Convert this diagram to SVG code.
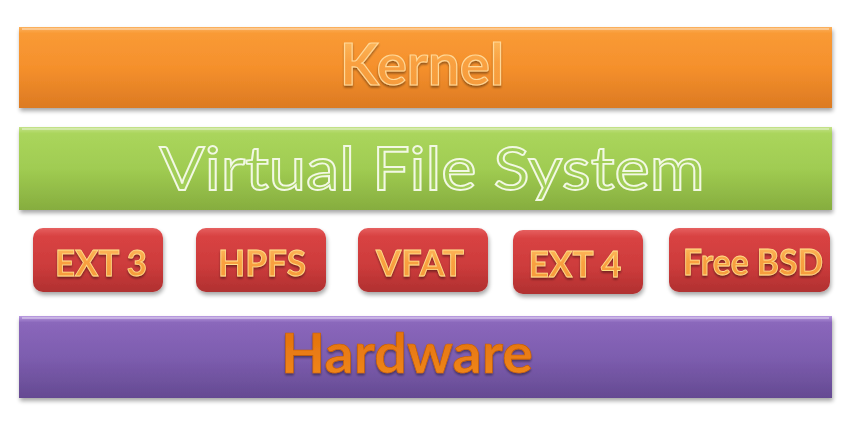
<svg xmlns="http://www.w3.org/2000/svg" width="865" height="437" viewBox="0 0 865 437">
<defs>
<linearGradient id="gOrange" x1="0" y1="0" x2="0" y2="1">
<stop offset="0" stop-color="#fbb15e"/><stop offset="0.08" stop-color="#f99a35"/><stop offset="0.5" stop-color="#f5902c"/><stop offset="1" stop-color="#dc7a22"/>
</linearGradient>
<linearGradient id="gGreen" x1="0" y1="0" x2="0" y2="1">
<stop offset="0" stop-color="#c4e28a"/><stop offset="0.08" stop-color="#aad55c"/><stop offset="0.5" stop-color="#a0cc52"/><stop offset="1" stop-color="#86ad3e"/>
</linearGradient>
<linearGradient id="gRed" x1="0" y1="0" x2="0" y2="1">
<stop offset="0" stop-color="#e66060"/><stop offset="0.12" stop-color="#d94343"/><stop offset="0.6" stop-color="#cc3b3b"/><stop offset="1" stop-color="#b03030"/>
</linearGradient>
<linearGradient id="gPurple" x1="0" y1="0" x2="0" y2="1">
<stop offset="0" stop-color="#b99ae0"/><stop offset="0.08" stop-color="#8a67bb"/><stop offset="0.5" stop-color="#7d5daf"/><stop offset="1" stop-color="#654a92"/>
</linearGradient>
<linearGradient id="gTextO" x1="0" y1="0" x2="0" y2="1">
<stop offset="0" stop-color="#ffc46a"/><stop offset="0.5" stop-color="#f9a040"/><stop offset="1" stop-color="#f59a3a"/>
</linearGradient>
<linearGradient id="gTextHW" x1="0" y1="0" x2="0" y2="1">
<stop offset="0" stop-color="#e06c08"/><stop offset="1" stop-color="#f28a1e"/>
</linearGradient>
<filter id="shadow" x="-5%" y="-10%" width="110%" height="130%">
<feGaussianBlur in="SourceAlpha" stdDeviation="2"/>
<feOffset dx="1" dy="3" result="b"/>
<feComponentTransfer><feFuncA type="linear" slope="0.35"/></feComponentTransfer>
<feMerge><feMergeNode/><feMergeNode in="SourceGraphic"/></feMerge>
</filter>
<filter id="tshadow" x="-5%" y="-10%" width="110%" height="130%">
<feGaussianBlur in="SourceAlpha" stdDeviation="1"/>
<feOffset dx="0" dy="2"/>
<feComponentTransfer><feFuncA type="linear" slope="0.4"/></feComponentTransfer>
<feMerge><feMergeNode/><feMergeNode in="SourceGraphic"/></feMerge>
</filter>
</defs>
<style>
.bar{filter:url(#shadow)}
.lbl{font-family:Lato,"Open Sans","Liberation Sans",sans-serif;text-anchor:middle}
.small{font-weight:bold;font-size:36px;fill:url(#gTextO);stroke:#ffe08a;stroke-width:0.8;filter:url(#tshadow)}
.hl{fill:none;stroke:#ffffff;stroke-opacity:0.35;stroke-width:2}
</style>
<rect width="865" height="437" fill="#ffffff"/>
<g id="kernel">
<rect class="bar" x="19" y="27" width="813" height="81" fill="url(#gOrange)"/>
<line class="hl" x1="22" y1="29" x2="829" y2="29"/>
<text class="lbl" x="422" y="85" font-size="58" font-weight="bold" fill="url(#gTextO)" stroke="#ffd898" stroke-width="1.2" filter="url(#tshadow)" textLength="164" lengthAdjust="spacingAndGlyphs">Kernel</text>
</g>
<g id="vfs">
<rect class="bar" x="19" y="127" width="813" height="83" fill="url(#gGreen)"/>
<line class="hl" x1="22" y1="129" x2="829" y2="129"/>
<text class="lbl" x="432" y="190" font-size="60" fill="#a2ce58" stroke="#f2f8e4" stroke-width="1.8" textLength="545" lengthAdjust="spacingAndGlyphs">Virtual File System</text>
</g>
<g id="ext3">
<rect class="bar" x="33" y="228" width="130" height="64" rx="10" fill="url(#gRed)"/>
<text class="lbl small" x="101" y="276" textLength="92" lengthAdjust="spacingAndGlyphs">EXT 3</text>
</g>
<g id="hpfs">
<rect class="bar" x="196" y="228" width="130" height="64" rx="10" fill="url(#gRed)"/>
<text class="lbl small" x="262" y="276" textLength="88" lengthAdjust="spacingAndGlyphs">HPFS</text>
</g>
<g id="vfat">
<rect class="bar" x="358" y="228" width="130" height="64" rx="10" fill="url(#gRed)"/>
<text class="lbl small" x="420" y="276" textLength="88" lengthAdjust="spacingAndGlyphs">VFAT</text>
</g>
<g id="ext4">
<rect class="bar" x="513" y="230" width="130" height="64" rx="10" fill="url(#gRed)"/>
<text class="lbl small" x="575" y="277" textLength="93" lengthAdjust="spacingAndGlyphs">EXT 4</text>
</g>
<g id="freebsd">
<rect class="bar" x="669" y="228" width="161" height="64" rx="10" fill="url(#gRed)"/>
<text class="lbl small" x="753" y="275" font-size="32" textLength="140" lengthAdjust="spacingAndGlyphs">Free BSD</text>
</g>
<g id="hardware">
<rect class="bar" x="19" y="316" width="813" height="82" fill="url(#gPurple)"/>
<line class="hl" x1="22" y1="318" x2="829" y2="318"/>
<text class="lbl" x="407" y="373" font-size="56" font-weight="bold" fill="url(#gTextHW)" stroke="#c85e00" stroke-width="0.6" filter="url(#tshadow)" textLength="252" lengthAdjust="spacingAndGlyphs">Hardware</text>
</g>
<g id="connectors"></g>
</svg>
